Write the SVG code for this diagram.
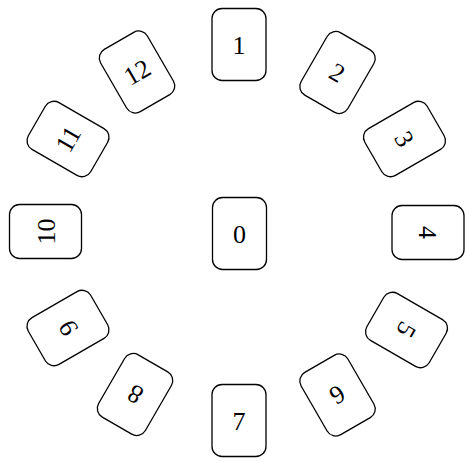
<svg xmlns="http://www.w3.org/2000/svg" width="465" height="462" viewBox="0 0 465 462">
<style>
rect.b{fill:#fff;stroke:#000;stroke-width:1.3}
text{font-family:"Liberation Serif","Times New Roman",serif;font-size:26px;text-anchor:middle;fill:#000}
</style>
<defs>
<rect id="box" class="b" x="-27" y="-36" width="54" height="72" rx="10" ry="10"/>
</defs>
<rect width="465" height="462" fill="#fff"/>
<g id="connectors"></g>
<g id="n0" transform="translate(239.5,233.5)"><use href="#box"/><text y="9">0</text></g>
<g id="n1" transform="translate(239,44.5)"><use href="#box"/><text y="9">1</text></g>
<g id="n2" transform="translate(337.5,72.5) rotate(30)"><use href="#box"/><text y="9">2</text></g>
<g id="n3" transform="translate(404.5,139) rotate(60)"><use href="#box"/><text y="9">3</text></g>
<g id="n4" transform="translate(428,232.5) rotate(90)"><use href="#box"/><text y="9">4</text></g>
<g id="n5" transform="translate(406.5,330) rotate(120)"><use href="#box"/><text y="9">5</text></g>
<g id="n6" transform="translate(337.5,395) rotate(150)"><use href="#box"/><text y="9">6</text></g>
<g id="n7" transform="translate(239,420.5)"><use href="#box"/><text y="9">7</text></g>
<g id="n8" transform="translate(135,394.5) rotate(210)"><use href="#box"/><text y="9">8</text></g>
<g id="n9" transform="translate(68,328) rotate(240)"><use href="#box"/><text y="9">9</text></g>
<g id="n10" transform="translate(45.5,231.5) rotate(270)"><use href="#box"/><text y="9">10</text></g>
<g id="n11" transform="translate(68,139) rotate(300)"><use href="#box"/><text y="9">11</text></g>
<g id="n12" transform="translate(137,72) rotate(330)"><use href="#box"/><text y="9">12</text></g>
</svg>
